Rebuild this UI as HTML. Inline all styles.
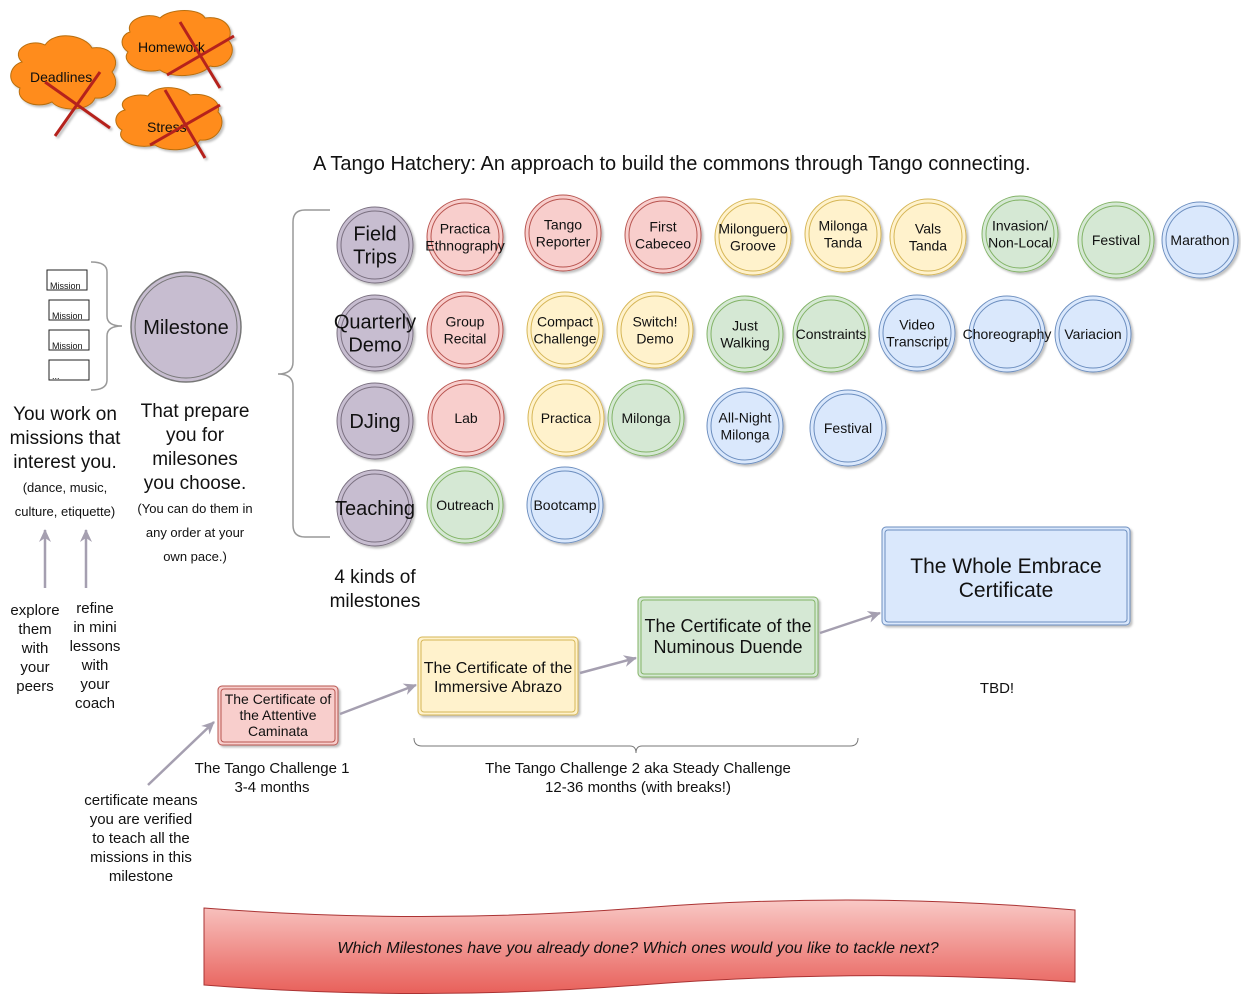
<!DOCTYPE html>
<html><head><meta charset="utf-8"><style>
body{margin:0;background:#fff}
svg{display:block;font-family:"Liberation Sans",sans-serif}
text{fill:#111}
</style></head><body>
<svg width="1241" height="1000" viewBox="0 0 1241 1000">
<defs>
<linearGradient id="bn" x1="0" y1="0" x2="0" y2="1"><stop offset="0" stop-color="#f9c9c6"/><stop offset="1" stop-color="#e8605a"/></linearGradient>
<marker id="ar" markerWidth="14" markerHeight="14" refX="12" refY="7" orient="auto" markerUnits="userSpaceOnUse"><path d="M0,1 L13,7 L0,13 L4,7Z" fill="#a59fb0"/></marker>
<filter id="sh"><feDropShadow dx="2" dy="2" stdDeviation="1" flood-color="#000" flood-opacity="0.25"/></filter>
</defs>

<g filter="url(#sh)">
<path d="M22,62 C10,50 30,38 45,45 C55,30 85,35 92,48 C110,45 122,60 112,72 C122,85 110,100 95,98 C90,112 60,112 52,102 C35,110 15,100 20,88 C5,82 10,65 22,62Z" fill="#ff8c1a" stroke="#b86e10"/>
<text x="30" y="82" font-size="14">Deadlines</text>
<line x1="45" y1="82" x2="110" y2="128" stroke="#b5231f" stroke-width="3"/><line x1="55" y1="136" x2="100" y2="72" stroke="#b5231f" stroke-width="3"/></g>
<g filter="url(#sh)">
<path d="M130,32 C125,18 150,12 160,18 C170,8 200,8 205,18 C225,15 235,30 228,40 C240,52 225,70 210,66 C200,78 170,78 160,70 C140,75 120,62 128,52 C118,45 122,34 130,32Z" fill="#ff8c1a" stroke="#b86e10"/>
<text x="138" y="52" font-size="14">Homework</text>
<line x1="180" y1="22" x2="220" y2="88" stroke="#b5231f" stroke-width="3"/><line x1="167" y1="75" x2="234" y2="36" stroke="#b5231f" stroke-width="3"/></g>
<g filter="url(#sh)">
<path d="M125,110 C115,100 135,92 148,96 C155,85 180,85 190,95 C205,92 222,100 218,112 C228,122 218,142 200,140 C192,152 165,152 155,145 C135,150 115,140 122,130 C112,124 115,112 125,110Z" fill="#ff8c1a" stroke="#b86e10"/>
<text x="147" y="132" font-size="14">Stress</text>
<line x1="165" y1="90" x2="205" y2="158" stroke="#b5231f" stroke-width="3"/><line x1="150" y1="145" x2="220" y2="105" stroke="#b5231f" stroke-width="3"/></g>

<text x="313" y="170" font-size="20">A Tango Hatchery: An approach to build the commons through Tango connecting.</text>

<g font-size="9">
<rect x="47" y="270" width="40" height="20" fill="#fff" stroke="#222"/><text x="50" y="289">Mission</text>
<rect x="49" y="300" width="40" height="20" fill="#fff" stroke="#222"/><text x="52" y="319">Mission</text>
<rect x="49" y="330" width="40" height="20" fill="#fff" stroke="#222"/><text x="52" y="349">Mission</text>
<rect x="49" y="360" width="40" height="20" fill="#fff" stroke="#222"/><text x="52" y="379">...</text>
</g>
<path d="M91,262 Q107,262 107,272 L107,316 Q107,326 122,326 Q107,326 107,336 L107,380 Q107,390 91,390" fill="none" stroke="#999" stroke-width="1.5"/>
<g><circle cx="186" cy="327" r="55" fill="#c7bdd0" stroke="#777" stroke-width="1.5"/><circle cx="186" cy="327" r="51" fill="none" stroke="#777"/><text x="186" y="334" font-size="20" text-anchor="middle">Milestone</text></g>

<g text-anchor="middle" font-size="19">
<text x="65" y="420">You work on</text><text x="65" y="444">missions that</text><text x="65" y="468">interest you.</text>
<text x="65" y="492" font-size="13">(dance, music,</text><text x="65" y="516" font-size="13">culture, etiquette)</text>
<text x="195" y="417">That prepare</text><text x="195" y="441">you for</text><text x="195" y="465">milesones</text><text x="195" y="489">you choose.</text>
<text x="195" y="513" font-size="13">(You can do them in</text><text x="195" y="537" font-size="13">any order at your</text><text x="195" y="561" font-size="13">own pace.)</text>
</g>
<line x1="45" y1="588" x2="45" y2="530" stroke="#a59fb0" stroke-width="2.5" marker-end="url(#ar)"/>
<line x1="86" y1="588" x2="86" y2="530" stroke="#a59fb0" stroke-width="2.5" marker-end="url(#ar)"/>
<g text-anchor="middle" font-size="15">
<text x="35" y="615">explore</text><text x="35" y="634">them</text><text x="35" y="653">with</text><text x="35" y="672">your</text><text x="35" y="691">peers</text>
<text x="95" y="613">refine</text><text x="95" y="632">in mini</text><text x="95" y="651">lessons</text><text x="95" y="670">with</text><text x="95" y="689">your</text><text x="95" y="708">coach</text>
</g>

<path d="M330,210 L305,210 Q293,210 293,222 L293,362 Q293,374 278,374 Q293,374 293,386 L293,525 Q293,537 305,537 L330,537" fill="none" stroke="#999" stroke-width="1.5"/>
<text x="375" y="583" font-size="19" text-anchor="middle">4 kinds of</text><text x="375" y="607" font-size="19" text-anchor="middle">milestones</text>

<g id="circles"></g>

<g filter="url(#sh)">
<rect x="218" y="686" width="120" height="59" rx="4" fill="#f8cecc" stroke="#b85450"/><rect x="221" y="689" width="114" height="53" rx="3" fill="none" stroke="#b85450"/>
<rect x="418" y="637" width="160" height="78" rx="4" fill="#fff2cc" stroke="#d6b656"/><rect x="421" y="640" width="154" height="72" rx="3" fill="none" stroke="#d6b656"/>
<rect x="638" y="597" width="180" height="80" rx="4" fill="#d5e8d4" stroke="#82b366"/><rect x="641" y="600" width="174" height="74" rx="3" fill="none" stroke="#82b366"/>
<rect x="882" y="527" width="248" height="98" rx="4" fill="#dae8fc" stroke="#6c8ebf"/><rect x="885" y="530" width="242" height="92" rx="3" fill="none" stroke="#6c8ebf"/>
</g>
<g text-anchor="middle">
<text x="278" y="704" font-size="14">The Certificate of</text><text x="278" y="720" font-size="14">the Attentive</text><text x="278" y="736" font-size="14">Caminata</text>
<text x="498" y="673" font-size="16">The Certificate of the</text><text x="498" y="692" font-size="16">Immersive Abrazo</text>
<text x="728" y="632" font-size="18">The Certificate of the</text><text x="728" y="653" font-size="18">Numinous Duende</text>
<text x="1006" y="573" font-size="21">The Whole Embrace</text><text x="1006" y="597" font-size="21">Certificate</text>
<text x="997" y="693" font-size="15">TBD!</text>
<text x="272" y="773" font-size="15">The Tango Challenge 1</text><text x="272" y="792" font-size="15">3-4 months</text>
<text x="638" y="773" font-size="15">The Tango Challenge 2 aka Steady Challenge</text><text x="638" y="792" font-size="15">12-36 months (with breaks!)</text>
<text x="141" y="805" font-size="15">certificate means</text><text x="141" y="824" font-size="15">you are verified</text><text x="141" y="843" font-size="15">to teach all the</text><text x="141" y="862" font-size="15">missions in this</text><text x="141" y="881" font-size="15">milestone</text>
</g>
<g stroke="#a59fb0" stroke-width="2.5" fill="none">
<line x1="340" y1="714" x2="416" y2="685" marker-end="url(#ar)"/>
<line x1="580" y1="673" x2="636" y2="658" marker-end="url(#ar)"/>
<line x1="820" y1="633" x2="880" y2="613" marker-end="url(#ar)"/>
<line x1="148" y1="785" x2="214" y2="722" marker-end="url(#ar)"/>
</g>
<path d="M414,738 Q414,746 422,746 L630,746 Q636,746 636,753 Q636,746 642,746 L850,746 Q858,746 858,738" fill="none" stroke="#777"/>

<g>
<path d="M204,908 Q420,925 640,908 T1075,910 L1075,982 Q860,968 640,985 T204,985 Z" fill="url(#bn)" stroke="#a33"/>
<text x="638" y="953" font-size="16" font-style="italic" text-anchor="middle">Which Milestones have you already done? Which ones would you like to tackle next?</text>
</g>
</svg>
<script>
const C={p:["#c7bdd0","#7a7080"],r:["#f8cecc","#b85450"],y:["#fff2cc","#d6b656"],g:["#d5e8d4","#82b366"],b:["#dae8fc","#6c8ebf"]};
const items=[
[375,245,"p",["Field","Trips"],20],[465,237,"r",["Practica","Ethnography"],14],[563,233,"r",["Tango","Reporter"],14],[663,235,"r",["First","Cabeceo"],14],[753,237,"y",["Milonguero","Groove"],14],[843,234,"y",["Milonga","Tanda"],14],[928,237,"y",["Vals","Tanda"],14],[1020,234,"g",["Invasion/","Non-Local"],14],[1116,240,"g",["Festival"],14],[1200,240,"b",["Marathon"],14],
[375,333,"p",["Quarterly","Demo"],20],[465,330,"r",["Group","Recital"],14],[565,330,"y",["Compact","Challenge"],14],[655,330,"y",["Switch!","Demo"],14],[745,334,"g",["Just","Walking"],14],[831,334,"g",["Constraints"],14],[917,333,"b",["Video","Transcript"],14],[1007,334,"b",["Choreography"],14],[1093,334,"b",["Variacion"],14],
[375,421,"p",["DJing"],20],[466,418,"r",["Lab"],14],[566,418,"y",["Practica"],14],[646,418,"g",["Milonga"],14],[745,426,"b",["All-Night","Milonga"],14],[848,428,"b",["Festival"],14],
[375,508,"p",["Teaching"],20],[465,505,"g",["Outreach"],14],[565,505,"b",["Bootcamp"],14]];
const g=document.getElementById('circles');const ns="http://www.w3.org/2000/svg";
items.forEach(it=>{const [x,y,c,l,fs]=it;const gr=document.createElementNS(ns,'g');


gr.setAttribute('filter','url(#sh)');
const a=document.createElementNS(ns,'circle');a.setAttribute('cx',x);a.setAttribute('cy',y);a.setAttribute('r',38);a.setAttribute('fill',C[c][0]);a.setAttribute('stroke',C[c][1]);gr.appendChild(a);
const b=document.createElementNS(ns,'circle');b.setAttribute('cx',x);b.setAttribute('cy',y);b.setAttribute('r',34);b.setAttribute('fill','none');b.setAttribute('stroke',C[c][1]);gr.appendChild(b);
g.appendChild(gr);
const lh=fs+3;const y0=y-(l.length-1)*lh/2+fs*0.35;
l.forEach((s,i)=>{const t=document.createElementNS(ns,'text');t.setAttribute('x',x);t.setAttribute('y',y0+i*lh);t.setAttribute('text-anchor','middle');t.setAttribute('font-size',fs);t.textContent=s;g.appendChild(t);});});
</script>
</body></html>
